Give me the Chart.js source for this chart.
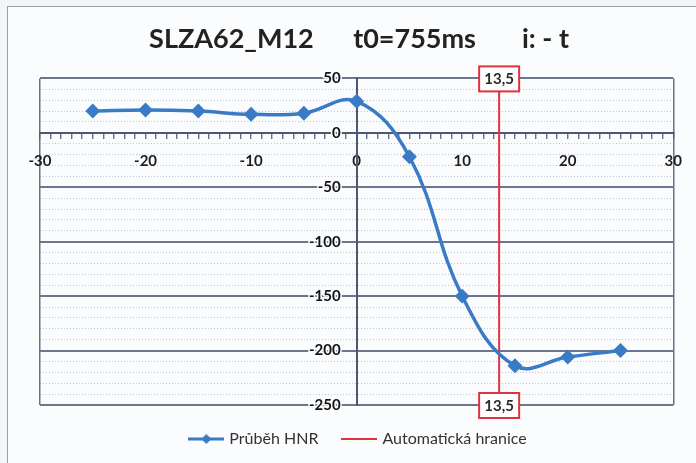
<!DOCTYPE html>
<html>
<head>
<meta charset="utf-8">
<script src="https://cdn.jsdelivr.net/npm/chart.js@4.4.1/dist/chart.umd.min.js"></script>
<style>
body{margin:0;background:#f3f5f9;}
#wrap{position:relative;width:696px;height:463px;overflow:hidden;}
#frame{position:absolute;left:7px;top:6px;width:700px;height:470px;border:1px solid #9c9ea4;background:#fbfcfe;}
#myChart{position:absolute;left:0;top:0;}
</style>
</head>
<body>
<div id="wrap">
	<div id="frame"></div>
	<canvas id="myChart" width="696" height="463"></canvas>
</div>
<script>
var chartTitle = 'SLZA62_M12      t0=755ms       i: - t';
var xValues = [-25, -20, -15, -10, -5, 0, 5, 10, 15, 20, 25];
var hnrValues = [20, 21, 20, 17, 18, 29, -22, -150, -214, -206, -200];
var boundary = 13.5;
var xTickLabels = [-30, -20, -10, 0, 10, 20, 30];
var yTickLabels = [50, 0, -50, -100, -150, -200, -250];
var seriesNames = ['Průběh HNR', 'Automatická hranice'];

var blue = '#3a7bc6';
var red = '#e0313c';
var axisDark = '#4d5873';
var paper = '#fbfcfe';

// legend markers: line with a diamond / plain line
function legendMarker(color, diamond){
	var c = document.createElement('canvas');
	c.width = 36; c.height = 12;
	var g = c.getContext('2d');
	g.strokeStyle = color;
	g.lineWidth = diamond ? 3 : 2;
	g.beginPath(); g.moveTo(0, 6); g.lineTo(36, 6); g.stroke();
	if(diamond){
		g.fillStyle = color;
		g.beginPath(); g.moveTo(18, 1); g.lineTo(23, 6); g.lineTo(18, 11); g.lineTo(13, 6); g.closePath(); g.fill();
	}
	return c;
}
var markers = [legendMarker(blue, true), legendMarker(red, false)];

var boundaryLabels = {
	id: 'boundaryLabels',
	afterDatasetsDraw: function(chart){
		var ctx = chart.ctx;
		var x = chart.scales.x.getPixelForValue(boundary);
		var ys = [chart.scales.y.getPixelForValue(chart.scales.y.max), chart.scales.y.getPixelForValue(chart.scales.y.min)];
		var txt = String(boundary).replace('.', ',');
		ctx.save();
		ctx.font = 'bold 15px Lato';
		ctx.textAlign = 'center';
		ctx.textBaseline = 'middle';
		ys.forEach(function(y){
			ctx.fillStyle = '#ffffff';
			ctx.fillRect(x - 20, y - 12, 40, 25);
			ctx.strokeStyle = red;
			ctx.lineWidth = 2;
			ctx.strokeRect(x - 20, y - 12, 40, 25);
			ctx.fillStyle = '#2b2b2b';
			ctx.fillText(txt, x, y + 1);
		});
		ctx.restore();
	}
};

var ctx = document.getElementById('myChart').getContext('2d');
var myChart = new Chart(ctx, {
	type: 'line',
	data: {
		datasets: [
			{
				label: seriesNames[0],
				data: xValues.map(function(v, i){ return {x: v, y: hnrValues[i]}; }),
				borderColor: blue,
				backgroundColor: blue,
				borderWidth: 3.5,
				tension: 0.4,
				pointStyle: 'rectRot',
				pointRadius: 5,
				pointHoverRadius: 5
			},
			{
				label: seriesNames[1],
				data: [{x: boundary, y: yTickLabels[yTickLabels.length - 1]}, {x: boundary, y: yTickLabels[0]}],
				borderColor: red,
				backgroundColor: red,
				borderWidth: 2,
				pointRadius: 0,
				tension: 0
			}
		]
	},
	options: {
		responsive: false,
		animation: false,
		layout: {padding: {left: 40, right: 18, top: 0, bottom: 6}},
		plugins: {
			title: {
				display: true,
				text: chartTitle,
				color: '#222',
				font: {family: 'Lato', size: 27, weight: 'bold'},
				padding: {top: 23, bottom: 23}
			},
			legend: {
				position: 'bottom',
				labels: {
					usePointStyle: true,
					pointStyleWidth: 30,
					color: '#333',
					font: {family: 'Lato', size: 16},
					padding: 26,
					generateLabels: function(chart){
						return chart.data.datasets.map(function(ds, i){
							return {text: ds.label, pointStyle: markers[i], datasetIndex: i, fontColor: '#333', lineWidth: 0, strokeStyle: 'transparent', fillStyle: 'transparent'};
						});
					}
				}
			},
			tooltip: {enabled: false}
		},
		scales: {
			x: {
				type: 'linear',
				min: -30,
				max: 30,
				position: {y: 0},
				ticks: {
					stepSize: 1,
					autoSkip: false,
					maxRotation: 0,
					padding: 14,
					color: '#1e1e1e',
					font: {family: 'Lato', size: 15, weight: 'bold'},
					callback: function(v){ return xTickLabels.indexOf(v) >= 0 ? String(v) : ''; }
				},
				grid: {
					drawOnChartArea: true,
					color: function(c){ return c.tick && (c.tick.value === -30 || c.tick.value === 30) ? '#6a7186' : 'rgba(0,0,0,0)'; },
					lineWidth: 1.5,
					tickColor: axisDark,
					tickLength: 5,
					tickWidth: 1.2
				},
				border: {display: true, color: axisDark, width: 2}
			},
			y2: {
				type: 'linear',
				min: -250,
				max: 50,
				position: {x: 0},
				ticks: {display: false, stepSize: 10},
				grid: {
					drawTicks: false,
					color: function(c){ return c.tick && c.tick.value % 50 === 0 ? 'rgba(0,0,0,0)' : 'rgba(120,128,150,0.45)'; },
					lineWidth: 1
				},
				border: {display: false, dash: [1, 2]}
			},
			y: {
				type: 'linear',
				min: -250,
				max: 50,
				position: {x: 0},
				afterBuildTicks: function(s){ s.ticks = yTickLabels.map(function(v){ return {value: v}; }); },
				ticks: {
					color: '#141414',
					textStrokeColor: paper,
					textStrokeWidth: 3,
					font: {family: 'Lato', size: 15, weight: 'bold'},
					// centred axis ignores ticks.padding, so pad with trailing spaces
					callback: function(v){ return String(v) + '\u2007  '; }
				},
				grid: {
					drawTicks: false,
					color: '#6d7690',
					lineWidth: 2
				},
				border: {display: true, color: axisDark, width: 2}
			}
		}
	},
	plugins: [boundaryLabels]
});
</script>
</body>
</html>
